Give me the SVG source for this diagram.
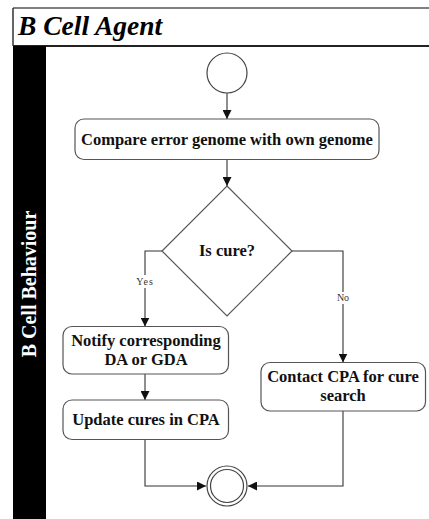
<svg xmlns="http://www.w3.org/2000/svg" width="429" height="519" viewBox="0 0 429 519">
  <defs>
    <marker id="arrow" viewBox="0 0 10 10" refX="10" refY="5" markerWidth="9" markerHeight="9" markerUnits="userSpaceOnUse" orient="auto">
      <path d="M0,0 L10,5 L0,10 z" fill="#111"/>
    </marker>
    <style>
      .frame { fill: none; stroke: #222; stroke-width: 1.5; }
      .box { fill: #fff; stroke: #555; stroke-width: 1.2; }
      .edge { fill: none; stroke: #333; stroke-width: 1.1; marker-end: url(#arrow); }
      .txt { font-family: "Liberation Serif", "Times New Roman", serif; font-weight: bold; font-size: 16.5px; fill: #111; text-anchor: middle; }
      .lbl { font-family: "Liberation Serif", "Times New Roman", serif; font-size: 10px; fill: #333; text-anchor: middle; }
    </style>
  </defs>

  <rect width="429" height="519" fill="#fff"/>

  <!-- swimlane frame -->
  <g id="lane">
    <line x1="13" y1="8" x2="429" y2="8" stroke="#555" stroke-width="1.5"/>
    <line x1="13" y1="46" x2="429" y2="46" stroke="#222" stroke-width="2"/>
    <line x1="13" y1="8" x2="13" y2="46" stroke="#333" stroke-width="1.5"/>
    <rect x="13" y="46" width="33" height="473" fill="#000"/>
    <text x="18" y="35" font-family="'Liberation Serif', 'Times New Roman', serif" font-weight="bold" font-style="italic" font-size="27.5" fill="#000">B Cell Agent</text>
    <text transform="translate(36,284) rotate(-90)" text-anchor="middle" font-family="'Liberation Serif', 'Times New Roman', serif" font-weight="bold" font-size="20" fill="#fff">B Cell Behaviour</text>
  </g>

  <!-- connectors -->
  <g id="connectors">
    <line class="edge" x1="227" y1="93" x2="227" y2="119"/>
    <line class="edge" x1="227" y1="159.5" x2="227" y2="186"/>
    <polyline class="edge" points="162,251 145,251 145,326.5"/>
    <polyline class="edge" points="292,251 343,251 343,362.5"/>
    <line class="edge" x1="145" y1="374" x2="145" y2="400"/>
    <polyline class="edge" points="145,439.5 145,486 206,486"/>
    <polyline class="edge" points="343,411 343,486 248,486"/>
    <rect x="136" y="275" width="18" height="13" fill="#fff"/>
    <text class="lbl" x="145" y="285" letter-spacing="1">Yes</text>
    <rect x="335" y="292" width="16" height="12" fill="#fff"/>
    <text class="lbl" x="343" y="301">No</text>
  </g>

  <g id="start">
    <circle cx="227" cy="73" r="20" fill="#fff" stroke="#444" stroke-width="1.2"/>
  </g>

  <g id="compare">
    <rect class="box" x="75" y="119" width="304" height="40.5" rx="9"/>
    <text class="txt" x="227" y="144.5">Compare error genome with own genome</text>
  </g>

  <g id="decision">
    <polygon class="box" points="227,186 292,251 227,316 162,251"/>
    <text class="txt" x="227" y="256">Is cure?</text>
  </g>

  <g id="notify">
    <rect class="box" x="63" y="326.5" width="165.5" height="47.5" rx="9"/>
    <text class="txt" x="146" y="346">Notify corresponding</text>
    <text class="txt" x="146" y="364.5">DA or GDA</text>
  </g>

  <g id="update">
    <rect class="box" x="63" y="400" width="165.5" height="39.5" rx="9"/>
    <text class="txt" x="146" y="424.5">Update cures in CPA</text>
  </g>

  <g id="contact">
    <rect class="box" x="261" y="362.5" width="164.5" height="48.5" rx="9"/>
    <text class="txt" x="343" y="382">Contact CPA for cure</text>
    <text class="txt" x="343" y="400.5">search</text>
  </g>

  <g id="end">
    <circle cx="227" cy="486" r="20" fill="#fff" stroke="#444" stroke-width="1.2"/>
    <circle cx="227" cy="486" r="16.5" fill="#fff" stroke="#444" stroke-width="1.2"/>
  </g>
</svg>
